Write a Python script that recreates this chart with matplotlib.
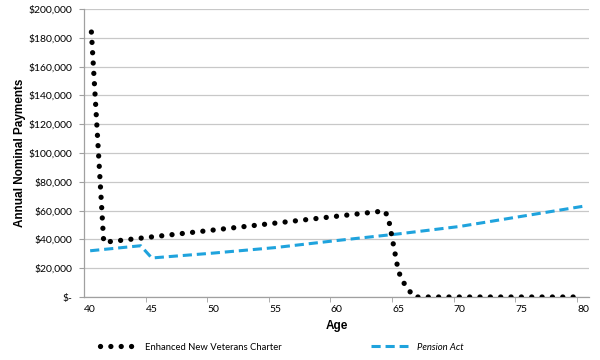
import matplotlib.pyplot as plt
from matplotlib.ticker import FuncFormatter, MultipleLocator

# Enhanced New Veterans Charter
envc_age = [40.1, 41.1, 63.9, 64.2, 65.0, 65.3, 65.8, 66.3, 80.0]
envc_pay = [184000, 38000, 59800, 55000, 18500, 11800, 5400, 0, 0]

# Pension Act
pension_age = [40.0, 44.1, 45.0, 50, 55, 60, 65, 70, 75, 80]
pension_pay = [32100, 35600, 27100, 30500, 34300, 39200, 43800, 49000, 56000, 63000]

x_ticks = [40, 45, 50, 55, 60, 65, 70, 75, 80]

plt.rcParams["font.family"] = ["Lato", "DejaVu Sans"]

fig = plt.figure(figsize=(6, 3.6), dpi=100)
ax = fig.add_axes([0.14, 0.175, 0.842, 0.80])

ax.plot(envc_age, envc_pay, color="black", linewidth=3.8,
        linestyle=(0, (0.01, 1.95)), dash_capstyle="round",
        label="Enhanced New Veterans Charter", zorder=3)
ax.plot(pension_age, pension_pay, color="#1fa3dd", linewidth=2.2,
        linestyle=(0, (3, 1.6)), label="Pension Act", zorder=2)

ax.set_xlim(39.5, 80.5)
ax.set_ylim(0, 200000)
ax.set_xticks(x_ticks)
ax.set_xticks([44.5 + 5 * i for i in range(8)], minor=True)
ax.yaxis.set_major_locator(MultipleLocator(20000))


def money(v, pos):
    if v == 0:
        return "$-"
    return "${:,.0f}".format(v)


ax.yaxis.set_major_formatter(FuncFormatter(money))
ax.grid(axis="y", color="#c8c8c8", linewidth=0.9)
ax.set_axisbelow(True)

for s in ["top", "right"]:
    ax.spines[s].set_visible(False)
for s in ["left", "bottom"]:
    ax.spines[s].set_color("#a0a0a0")
    ax.spines[s].set_linewidth(0.9)

ax.tick_params(axis="y", length=3.5, color="#a0a0a0", labelsize=7.5, pad=5)
ax.tick_params(axis="x", which="major", length=0, labelsize=7.5, pad=6)
ax.tick_params(axis="x", which="minor", length=3.5, color="#a0a0a0")

ax.set_xlabel("Age", fontsize=8.5, fontweight="bold",
              family=["Liberation Sans", "DejaVu Sans"], labelpad=4)
ax.set_ylabel("Annual Nominal Payments", fontsize=8.5, fontweight="bold",
              family=["Liberation Sans", "DejaVu Sans"], labelpad=2)

leg = fig.legend(loc="center left", bbox_to_anchor=(0.166, 0.036), ncol=2,
                 frameon=False, fontsize=6.8, handlelength=3.9,
                 handletextpad=0.95, columnspacing=9.4, borderpad=0,
                 borderaxespad=0)
leg.get_texts()[1].set_fontstyle("italic")

fig.savefig("out.png", dpi=100)
